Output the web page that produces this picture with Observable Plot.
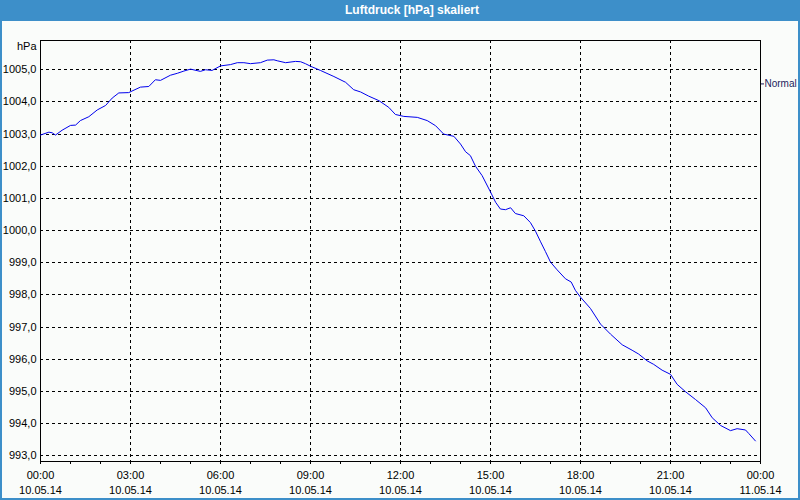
<!DOCTYPE html>
<html>
<head>
<meta charset="utf-8">
<script src="https://cdn.jsdelivr.net/npm/d3@7"></script>
<script src="https://cdn.jsdelivr.net/npm/@observablehq/plot@0.6"></script>
<style>
  html, body { margin: 0; padding: 0; overflow: hidden; }
  #wrap { position: relative; width: 800px; height: 500px; background: #3d8fc9; font-family: "Liberation Sans", Arial, sans-serif; }
  #title { position: absolute; left: 0; top: 0; width: 800px; height: 21px; line-height: 21px; color: #ffffff; font-weight: bold; font-size: 12px; text-align: center; padding-left: 24px; box-sizing: border-box; }
  #panel { position: absolute; left: 2px; top: 21px; width: 796px; height: 477px; background: #fafcfa; }
  #chart { position: absolute; left: 0; top: 21px; }
</style>
</head>
<body>
<div id="wrap">
  <div id="title">Luftdruck [hPa] skaliert</div>
  <div id="panel"></div>
  <div id="chart"></div>
</div>
<script>
// Measurement times (hours after 10.05.14 00:00) and air pressure (hPa)
const hours = [0, 0.28, 0.39, 0.5, 0.72, 1.0, 1.17, 1.33, 1.61, 1.89,
  2.17, 2.39, 2.61, 2.94, 3.33, 3.61, 3.83, 4.0, 4.33, 4.56,
  4.78, 5.0, 5.33, 5.5, 5.72, 6.0, 6.33, 6.56, 6.78, 7.0,
  7.33, 7.56, 7.78, 7.89, 8.17, 8.5, 8.67, 8.83, 9.0, 9.33,
  9.78, 10.17, 10.44, 10.67, 10.94, 11.28, 11.61, 11.83, 12.11, 12.56,
  12.89, 13.17, 13.44, 13.78, 14.0, 14.17, 14.33, 14.5, 14.72, 15.0,
  15.17, 15.33, 15.5, 15.67, 15.83, 16.11, 16.33, 16.5, 16.67, 16.83,
  17.0, 17.22, 17.5, 17.69, 17.83, 18.0, 18.33, 18.67, 19.0, 19.39,
  19.72, 19.94, 20.22, 20.44, 20.72, 21.0, 21.22, 21.5, 21.83, 22.17,
  22.39, 22.67, 23.0, 23.22, 23.5, 23.61, 23.83];
const pressure = [1002.97, 1003.06, 1003.04, 1002.97, 1003.12, 1003.27, 1003.28, 1003.42, 1003.54, 1003.75,
  1003.89, 1004.12, 1004.28, 1004.29, 1004.46, 1004.48, 1004.69, 1004.67, 1004.83, 1004.89,
  1004.96, 1005.02, 1004.95, 1005.0, 1004.98, 1005.12, 1005.16, 1005.22, 1005.22, 1005.19,
  1005.22, 1005.30, 1005.31, 1005.28, 1005.22, 1005.26, 1005.25, 1005.19, 1005.11, 1004.98,
  1004.79, 1004.61, 1004.38, 1004.31, 1004.18, 1004.04, 1003.83, 1003.61, 1003.55, 1003.52,
  1003.42, 1003.26, 1003.0, 1002.93, 1002.69, 1002.45, 1002.33, 1002.0, 1001.71, 1001.2,
  1000.88, 1000.67, 1000.65, 1000.71, 1000.53, 1000.46, 1000.25, 999.98, 999.65, 999.35,
  999.02, 998.78, 998.5, 998.4, 998.14, 997.93, 997.58, 997.09, 996.78, 996.45,
  996.28, 996.16, 995.95, 995.84, 995.66, 995.53, 995.22, 994.99, 994.75, 994.49,
  994.18, 993.94, 993.78, 993.84, 993.8, 993.69, 993.46];

const yTicks = [993, 994, 995, 996, 997, 998, 999, 1000, 1001, 1002, 1003, 1004, 1005];
const yDomain = [992.82, 1005.91];
const normalLevel = [1004.56];
const normalLabel = "Normal";
const unitLabel = "hPa";

const majorHours = [0, 3, 6, 9, 12, 15, 18, 21, 24];
const majorTimeLabels = ["00:00", "03:00", "06:00", "09:00", "12:00", "15:00", "18:00", "21:00", "00:00"];
const majorDateLabels = ["10.05.14", "10.05.14", "10.05.14", "10.05.14", "10.05.14", "10.05.14", "10.05.14", "10.05.14", "11.05.14"];
const minorHours = d3.range(0, 25);

const t0 = Date.UTC(2014, 4, 10);
const toDate = h => new Date(t0 + h * 3600e3);

const data = hours.map((h, i) => ({t: toDate(h), p: pressure[i]}));
const majorTicks = majorHours.map((h, i) => ({t: toDate(h), time: majorTimeLabels[i], date: majorDateLabels[i]}));
const minorTicks = minorHours.map(toDate);
const fmtY = d => d.toFixed(1).replace(".", ",");

const chart = Plot.plot({
  width: 800,
  height: 477,
  marginLeft: 40,
  marginRight: 40,
  marginTop: 19,
  marginBottom: 37,
  style: {background: "none", fontFamily: "'Liberation Sans', Arial, sans-serif", fontSize: "11px", color: "black", overflow: "visible"},
  x: {type: "utc", domain: [toDate(0), toDate(24)], label: null},
  y: {domain: yDomain, label: null},
  marks: [
    Plot.gridY(yTicks, {stroke: "black", strokeOpacity: 1, strokeDasharray: "3,3", shapeRendering: "crispEdges"}),
    Plot.gridX(majorTicks.map(d => d.t), {stroke: "black", strokeOpacity: 1, strokeDasharray: "3,3", shapeRendering: "crispEdges"}),
    Plot.frame({stroke: "black", shapeRendering: "crispEdges"}),
    Plot.line(data, {x: "t", y: "p", stroke: "#0000ee", strokeWidth: 1}),
    Plot.axisY(yTicks, {label: null, tickSize: 0, tickPadding: 4, tickFormat: fmtY, fontSize: 11, fill: "black"}),
    Plot.axisX(minorTicks, {label: null, tickSize: 3, tickFormat: () => "", stroke: "black", shapeRendering: "crispEdges"}),
    Plot.text(majorTicks, {x: "t", frameAnchor: "bottom", text: "time", dy: 14, lineAnchor: "middle", fontSize: 11, fill: "black"}),
    Plot.text(majorTicks, {x: "t", frameAnchor: "bottom", text: "date", dy: 29, lineAnchor: "middle", fontSize: 11, fill: "black"}),
    Plot.axisY(normalLevel, {anchor: "right", label: null, tickSize: 3, tickPadding: 1, tickFormat: () => normalLabel, fontSize: 10, fill: "#1c1c5c", stroke: "#1c1c5c"}),
    Plot.text([unitLabel], {frameAnchor: "top-left", dx: -4, dy: 6, textAnchor: "end", lineAnchor: "middle", fontSize: 11, fill: "black"})
  ]
});
document.getElementById("chart").appendChild(chart);
</script>
</body>
</html>
